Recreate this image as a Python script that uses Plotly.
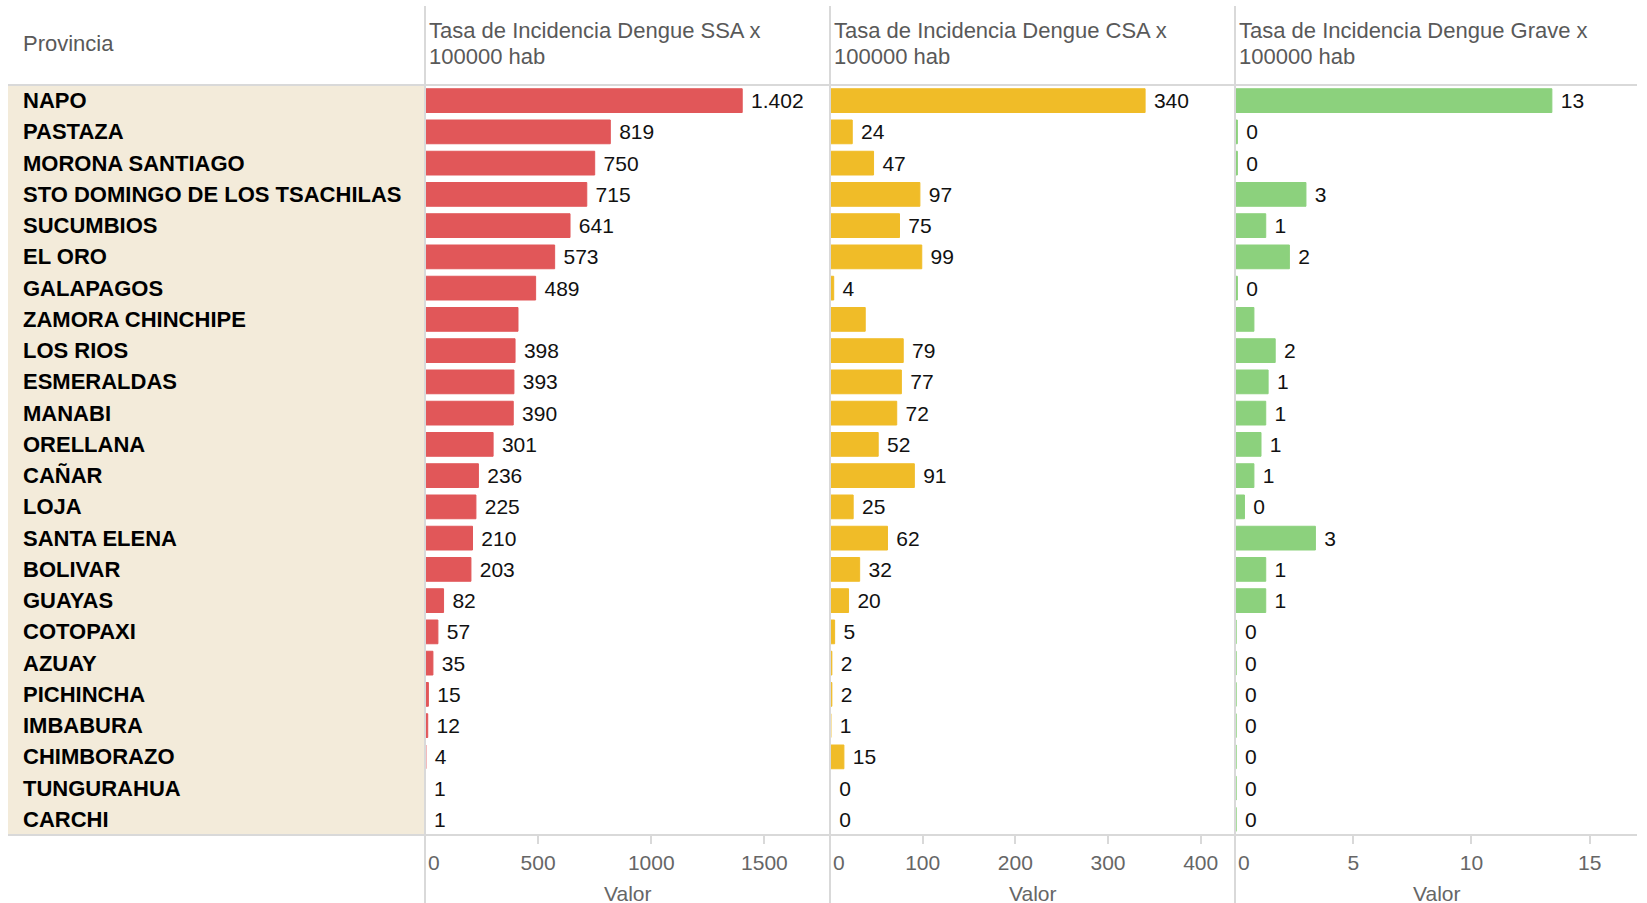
import plotly.graph_objects as go

provincias = [
    "NAPO", "PASTAZA", "MORONA SANTIAGO", "STO DOMINGO DE LOS TSACHILAS",
    "SUCUMBIOS", "EL ORO", "GALAPAGOS", "ZAMORA CHINCHIPE", "LOS RIOS",
    "ESMERALDAS", "MANABI", "ORELLANA", "CAÑAR", "LOJA", "SANTA ELENA",
    "BOLIVAR", "GUAYAS", "COTOPAXI", "AZUAY", "PICHINCHA", "IMBABURA",
    "CHIMBORAZO", "TUNGURAHUA", "CARCHI",
]
tasa_ssa = [1402, 819, 750, 715, 641, 573, 489, 411, 398, 393, 390, 301,
            236, 225, 210, 203, 82, 57, 35, 15, 12, 4, 1, 1]
tasa_csa = [340, 24, 47, 97, 75, 99, 4, 38, 79, 77, 72, 52,
            91, 25, 62, 32, 20, 5, 2, 2, 1, 15, 0.4, 0.4]
tasa_grave = [13.4, 0.1, 0.1, 3.0, 1.3, 2.3, 0.1, 0.8, 1.7, 1.4, 1.3, 1.1,
              0.8, 0.4, 3.4, 1.3, 1.3, 0.05, 0.05, 0.05, 0.05, 0.05, 0.05, 0.05]
sin_etiqueta = ["ZAMORA CHINCHIPE"]

titulos = [
    ("Tasa de Incidencia Dengue SSA x", "100000 hab"),
    ("Tasa de Incidencia Dengue CSA x", "100000 hab"),
    ("Tasa de Incidencia Dengue Grave x", "100000 hab"),
]
colores = ["#E15759", "#F0BC28", "#8CD17D"]
rangos = [1790, 437, 17]
ticks = [[0, 500, 1000, 1500], [0, 100, 200, 300, 400], [0, 5, 10, 15]]

W, H = 1647, 903
FONT = "Liberation Sans, Arial, sans-serif"


def px(x):
    return x / W


def py(y):
    return 1 - y / H


def etiquetas(valores):
    out = []
    for p, v in zip(provincias, valores):
        if p in sin_etiqueta:
            out.append("")
        else:
            out.append("\u00a0" + f"{round(v):,}".replace(",", "."))
    return out


# limits of the panels in pixels
bordes = [425, 830, 1235, 1637]
top, bottom = 85, 835

fig = go.Figure()

for i, valores in enumerate([tasa_ssa, tasa_csa, tasa_grave]):
    ax = "x" if i == 0 else f"x{i + 1}"
    fig.add_trace(go.Bar(
        x=valores,
        y=provincias,
        orientation="h",
        xaxis=ax,
        yaxis="y",
        marker=dict(color=colores[i], line=dict(color=colores[i], width=1)),
        text=etiquetas(valores),
        textposition="outside",
        textfont=dict(family=FONT, size=21, color="#111111"),
        cliponaxis=False,
        hoverinfo="x+y",
    ))

layout = dict(
    width=W, height=H,
    autosize=False,
    margin=dict(l=0, r=0, t=0, b=0, pad=0, autoexpand=False),
    plot_bgcolor="white",
    paper_bgcolor="white",
    showlegend=False,
    bargap=0.24,
    separators=",.",
    yaxis=dict(
        domain=[py(bottom), py(top)],
        type="category",
        categoryarray=provincias,
        autorange="reversed",
        showticklabels=False,
        showgrid=False,
        zeroline=False,
        showline=False,
        automargin=False,
    ),
)

for i in range(3):
    key = "xaxis" if i == 0 else f"xaxis{i + 1}"
    ticktext = [str(t) for t in ticks[i]]
    ticktext[0] = "\u00a0\u00a0\u00a0" + ticktext[0]
    layout[key] = dict(
        domain=[px(bordes[i]), px(bordes[i + 1])],
        range=[0, rangos[i]],
        anchor="y",
        showgrid=False,
        zeroline=False,
        showline=False,
        automargin=False,
        ticks="outside",
        ticklen=8,
        tickwidth=2,
        tickcolor="#d9d9d9",
        tickvals=ticks[i],
        ticktext=ticktext,
        tickfont=dict(family=FONT, size=21, color="#666666"),
        ticklabelstandoff=1,
    )

fig.update_layout(**layout)

# Shapes: beige label column, frame lines
shapes = [
    dict(type="rect", xref="paper", yref="paper",
         x0=px(8), x1=px(bordes[0]), y0=py(bottom), y1=py(top),
         fillcolor="#F3EBDA", line=dict(width=0), layer="below"),
    dict(type="line", xref="paper", yref="paper",
         x0=px(8), x1=px(bordes[3]), y0=py(top), y1=py(top),
         line=dict(color="#d9d9d9", width=2)),
    dict(type="line", xref="paper", yref="paper",
         x0=px(8), x1=px(bordes[3]), y0=py(bottom), y1=py(bottom),
         line=dict(color="#d9d9d9", width=2)),
]
for b in bordes[:3]:
    shapes.append(dict(type="line", xref="paper", yref="paper",
                       x0=px(b), x1=px(b), y0=0, y1=py(6),
                       line=dict(color="#d9d9d9", width=2)))

annotations = [
    dict(text="Provincia", xref="paper", yref="paper", x=px(21), y=py(43),
         xanchor="left", yanchor="middle", showarrow=False,
         font=dict(family=FONT, size=22, color="#595959")),
]
for p in provincias:
    annotations.append(dict(
        text=f"<b>{p}</b>", xref="paper", yref="y", x=px(21), y=p,
        xanchor="left", yanchor="middle", showarrow=False,
        font=dict(family=FONT, size=22, color="#000000"),
    ))
for i, (l1, l2) in enumerate(titulos):
    for texto, yy in [(l1, 31), (l2, 57)]:
        annotations.append(dict(
            text=texto, xref="paper", yref="paper", x=px(bordes[i] + 2), y=py(yy),
            xanchor="left", yanchor="middle", showarrow=False,
            font=dict(family=FONT, size=22, color="#595959"),
        ))
    annotations.append(dict(
        text="Valor", xref="paper", yref="paper",
        x=px((bordes[i] + bordes[i + 1]) / 2), y=py(893),
        xanchor="center", yanchor="middle", showarrow=False,
        font=dict(family=FONT, size=21, color="#666666"),
    ))

fig.update_layout(shapes=shapes, annotations=annotations)

# no page margin, so the figure fills the window exactly
fig.write_html("out.html", config={"displayModeBar": False},
               post_script="document.body.style.margin='0';")
